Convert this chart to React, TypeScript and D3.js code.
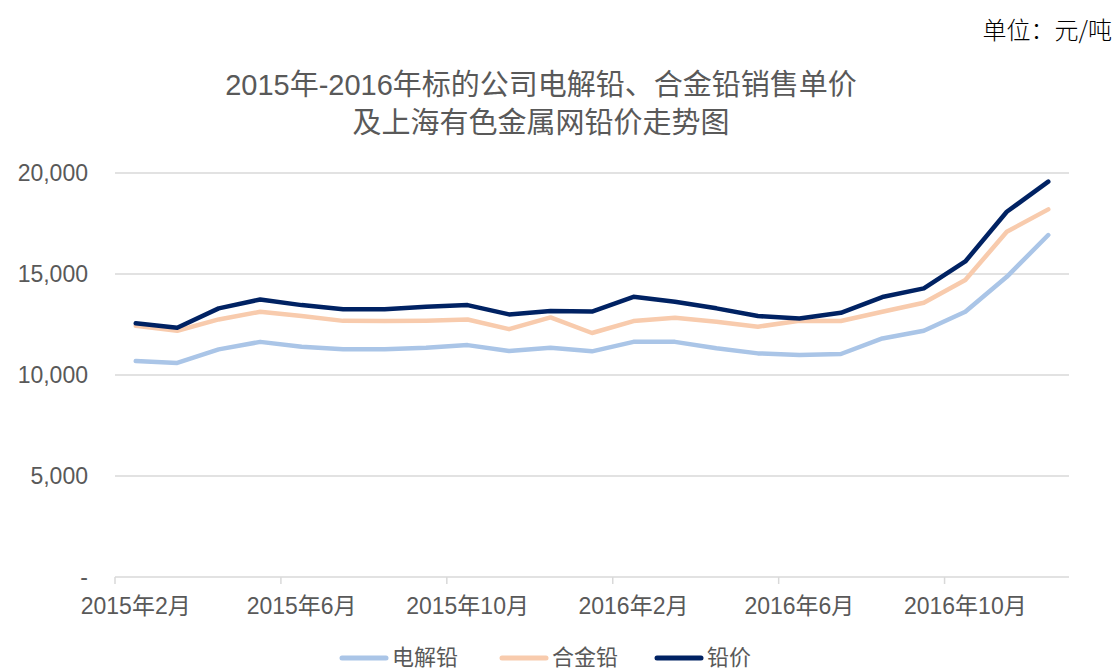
import React, { useEffect, useRef } from "react";
import * as d3 from "d3";

const months = [
  "2015年2月", "2015年3月", "2015年4月", "2015年5月", "2015年6月", "2015年7月",
  "2015年8月", "2015年9月", "2015年10月", "2015年11月", "2015年12月", "2016年1月",
  "2016年2月", "2016年3月", "2016年4月", "2016年5月", "2016年6月", "2016年7月",
  "2016年8月", "2016年9月", "2016年10月", "2016年11月", "2016年12月",
];
const electrolytic = [
  10690, 10600, 11270, 11640, 11400, 11280, 11280, 11350, 11480, 11190, 11350, 11170,
  11640, 11640, 11320, 11070, 10990, 11040, 11810, 12190, 13130, 14860, 16930,
];
const alloy = [
  12440, 12190, 12750, 13130, 12920, 12680, 12670, 12690, 12750, 12270, 12850, 12080,
  12670, 12830, 12640, 12390, 12690, 12670, 13130, 13580, 14700, 17090, 18200,
];
const leadPrice = [
  12560, 12340, 13300, 13740, 13460, 13260, 13250, 13380, 13460, 13000, 13170, 13140,
  13870, 13630, 13300, 12920, 12800, 13080, 13860, 14290, 15620, 18080, 19570,
];
const yTicks = [0, 5000, 10000, 15000, 20000];
const labelEvery = 4;
const seriesNames = ["电解铅", "合金铅", "铅价"];
const seriesColors = ["#aac5e7", "#f8cbad", "#002263"];

export default function App() {
  const ref = useRef<SVGSVGElement | null>(null);

  useEffect(() => {
    const svg = d3.select(ref.current);
    svg.selectAll("*").remove();

    const left = 115, right = 1069, top = 173, bottom = 577;
    const x = d3.scaleBand<string>().domain(months).range([left, right]);
    const y = d3.scaleLinear().domain([0, 20000]).range([bottom, top]);
    const gray = "#595959";
    const font = "'Liberation Sans', Arial, 'Noto Sans CJK SC', sans-serif";

    // title
    const title = svg.append("text")
      .attr("x", 541).attr("text-anchor", "middle")
      .attr("font-family", font).attr("font-size", 29).attr("fill", gray);
    title.append("tspan").attr("x", 541).attr("y", 95).text("2015年-2016年标的公司电解铅、合金铅销售单价");
    title.append("tspan").attr("x", 541).attr("y", 133).text("及上海有色金属网铅价走势图");

    svg.append("text")
      .attr("x", 1112).attr("y", 39).attr("text-anchor", "end")
      .attr("font-family", "'Noto Sans CJK SC', serif").attr("font-size", 24)
      .attr("font-weight", 300).attr("fill", "#000")
      .text("单位：元/吨");

    // gridlines
    svg.append("g").selectAll("line").data(yTicks.filter(d => d > 0)).enter().append("line")
      .attr("x1", left).attr("x2", right)
      .attr("y1", d => y(d)).attr("y2", d => y(d))
      .attr("stroke", "#d9d9d9").attr("stroke-width", 1.5);

    // y labels
    svg.append("g").selectAll("text").data(yTicks).enter().append("text")
      .attr("x", 88).attr("y", d => y(d)).attr("dy", "0.35em")
      .attr("text-anchor", "end").attr("font-family", font).attr("font-size", 23).attr("fill", gray)
      .text(d => (d === 0 ? "-" : d3.format(",")(d)));

    // x axis line
    svg.append("line").attr("x1", left).attr("x2", right).attr("y1", bottom).attr("y2", bottom)
      .attr("stroke", "#d9d9d9").attr("stroke-width", 1.5);
    const tickIdx = months.map((_, i) => i).filter(i => i % labelEvery === 0);
    svg.append("g").selectAll("line").data(tickIdx).enter().append("line")
      .attr("x1", i => x(months[i]) as number).attr("x2", i => x(months[i]) as number)
      .attr("y1", bottom).attr("y2", bottom + 7)
      .attr("stroke", "#d9d9d9").attr("stroke-width", 1.5);
    svg.append("g").selectAll("text").data(tickIdx).enter().append("text")
      .attr("x", i => (x(months[i]) as number) + x.bandwidth() / 2)
      .attr("y", 614).attr("text-anchor", "middle")
      .attr("font-family", font).attr("font-size", 23).attr("fill", gray)
      .text(i => months[i]);

    // lines
    const seriesData = [electrolytic, alloy, leadPrice];
    const line = d3.line<number>()
      .x((_, i) => (x(months[i]) as number) + x.bandwidth() / 2)
      .y(d => y(d));
    seriesData.forEach((s, k) => {
      svg.append("path").datum(s).attr("d", line)
        .attr("fill", "none").attr("stroke", seriesColors[k]).attr("stroke-width", 4.5)
        .attr("stroke-linejoin", "round").attr("stroke-linecap", "round");
    });

    // legend
    const legendX = [342, 502, 657];
    seriesNames.forEach((n, k) => {
      const g = svg.append("g");
      g.append("line").attr("x1", legendX[k]).attr("x2", legendX[k] + 44)
        .attr("y1", 658).attr("y2", 658)
        .attr("stroke", seriesColors[k]).attr("stroke-width", 5).attr("stroke-linecap", "round");
      g.append("text").attr("x", legendX[k] + 50).attr("y", 665)
        .attr("font-family", font).attr("font-size", 22).attr("fill", gray).text(n);
    });
  }, []);

  return (
    <svg ref={ref} width={1115} height={671}
      style={{ position: "absolute", left: 0, top: 0, background: "#fff" }} />
  );
}
